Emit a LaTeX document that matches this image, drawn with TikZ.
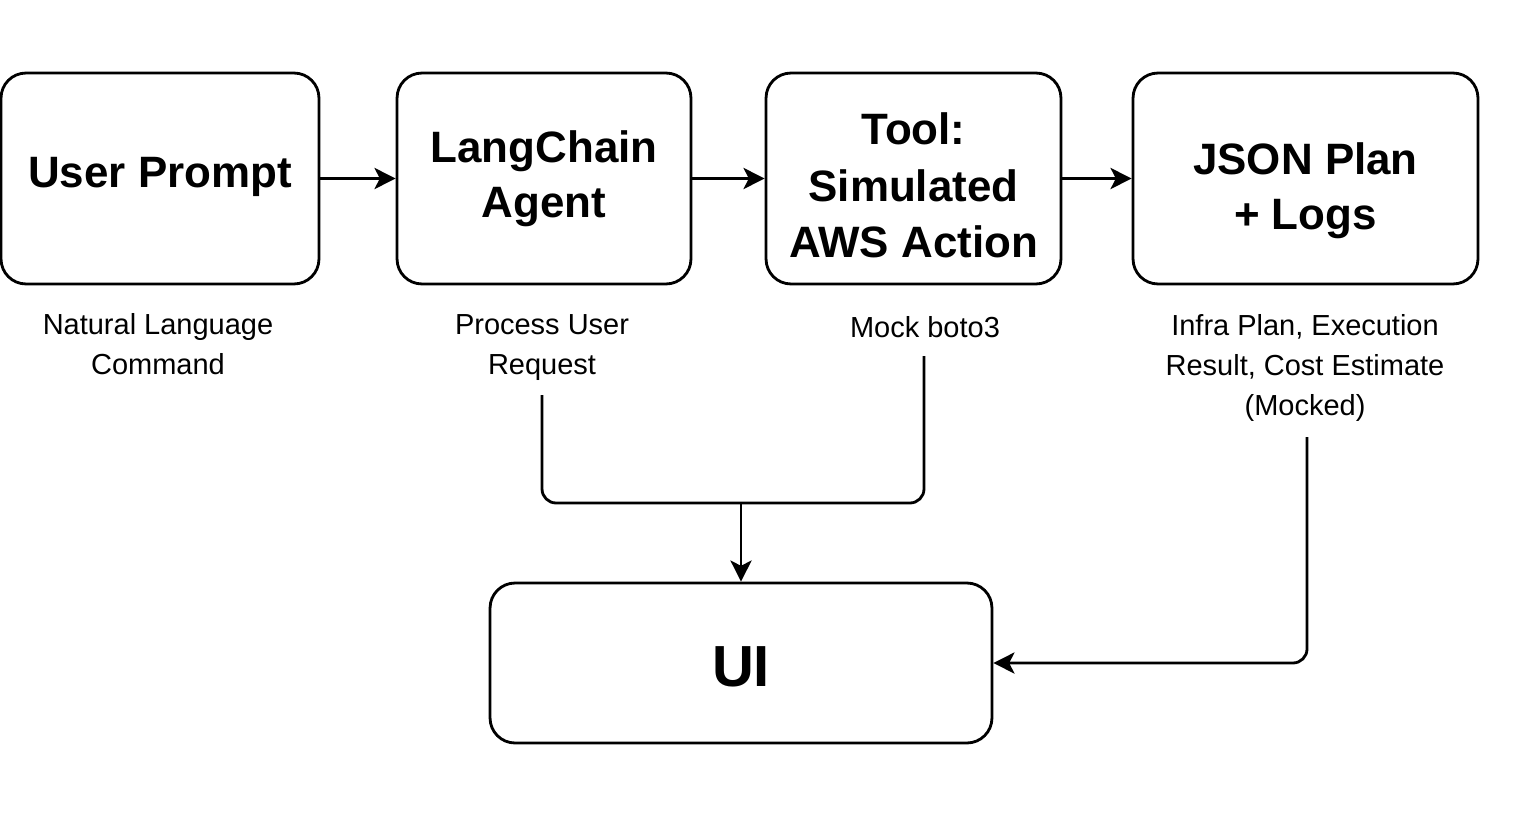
\documentclass[tikz,border=0pt]{standalone}
\usepackage{fontspec}
\setmainfont{Liberation Sans}
\usetikzlibrary{arrows.meta}
\begin{document}
\begin{tikzpicture}[x=0.02cm,y=-0.02cm,
  box/.style={draw, line width=1.6pt, rounded corners=0.5cm, inner sep=0pt},
  title/.style={align=center, inner sep=0pt, font=\fontsize{25}{31.5}\selectfont\bfseries},
  lbl/.style={align=center, inner sep=0pt, font=\fontsize{16.5}{22.9}\selectfont},
  conn/.style={line width=1.6pt},
  arr/.style={conn, -{Stealth[length=12pt,width=12pt,inset=3pt]}}]
\useasboundingbox (0,0) rectangle (1530,835);
\node[box, minimum width=6.36cm, minimum height=4.22cm] (up) at (160,178.5) {};
\node[box, minimum width=5.88cm, minimum height=4.22cm] (lc) at (544,178.5) {};
\node[box, minimum width=5.90cm, minimum height=4.22cm] (tool) at (913.5,178.5) {};
\node[box, minimum width=6.90cm, minimum height=4.22cm] (json) at (1305.5,178.5) {};
\node[box, minimum width=10.04cm, minimum height=3.2cm] (ui) at (741,663) {};

\node[title] (tup) at (160,176.5) {User Prompt};
\node[title] (tlc) at (544,178.5) {LangChain\\Agent};
\node[title, font=\fontsize{25}{32}\selectfont\bfseries] (ttool) at (913.5,185.5) {Tool:\\Simulated\\AWS Action};
\node[title] (tjson) at (1305.5,191) {JSON Plan\\+ Logs};
\node[title, font=\fontsize{33}{40}\selectfont\bfseries] (tui) at (741,667) {UI};

\node[lbl] (l1) at (158,344) {Natural Language\\Command};
\node[lbl] (l2) at (542,347.5) {Process User\\Request};
\node[lbl] (l3) at (925,327) {Mock boto3};
\node[lbl] (l4) at (1305,368) {Infra Plan, Execution\\Result, Cost Estimate\\(Mocked)};

\draw[arr] (up.east) -- (lc.west);
\draw[arr] (lc.east) -- (tool.west);
\draw[arr] (tool.east) -- (json.west);

\coordinate (a1) at (542,395);
\coordinate (a2) at (924,356);
\coordinate (m) at (741,503);
\coordinate (b1) at (1307,437);
\draw[conn, rounded corners=8pt] (a1) |- (m) -| (a2);
\draw[arr] (m) -- (ui.north);
\draw[arr, rounded corners=8pt] (b1) |- (ui.east);
\end{tikzpicture}
\end{document}
